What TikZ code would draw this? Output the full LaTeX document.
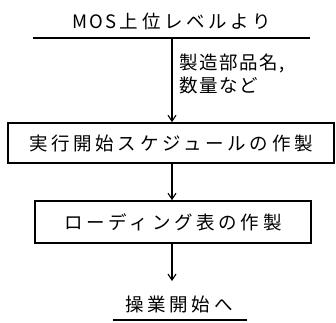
\documentclass[tikz,border=0pt]{standalone}
\usepackage{fontspec}
\usetikzlibrary{arrows.meta}
\newfontfamily\jpfont[LetterSpace=20]{Noto Sans CJK JP}
\newfontfamily\jpfontn[LetterSpace=8]{Noto Sans CJK JP}
\newfontfamily\jplat[LetterSpace=12]{Noto Sans CJK JP}
\begin{document}
\begin{tikzpicture}[x=1pt,y=-1pt,
  txt/.style={font=\jpfont\fontsize{18.5}{20}\selectfont, inner sep=0pt},
  lbl/.style={font=\jpfontn\fontsize{18.5}{20}\selectfont, inner sep=0pt, anchor=west},
  procbox/.style={draw, line width=1.6pt, inner sep=0pt, font=\jpfont\fontsize{18.5}{20}\selectfont},
  flow/.style={line width=1.3pt, -{Straight Barb[length=6pt,width=8pt,line width=1.1pt]}},
  rule/.style={line width=1.5pt}]
\useasboundingbox (0,0) rectangle (336,322);
\node[txt] (src) at (172,21) {{\jplat\fontsize{18.5}{20}\selectfont MOS\,}上位レベルより};
\coordinate (tl) at (33,38);
\coordinate (tr) at (310,38);
\coordinate (t) at (172,38);
\draw[rule] (tl) -- (tr);
\node[procbox, minimum width=326pt, minimum height=40pt] (b1) at (171,143) {実行開始スケジュールの作製};
\node[procbox, minimum width=276pt, minimum height=42pt] (b2) at (173,222) {ローディング表の作製};
\node[lbl] (l1) at (179,63) {製造部品名,};
\node[lbl] (l2) at (179,85) {数量など};
\draw[flow] (t) -- (t |- b1.north);
\draw[flow] (b1.south -| t) -- (b2.north -| t);
\coordinate (e) at (172,281);
\draw[flow] (b2.south -| t) -- (e);
\node[txt] (dst) at (179,304) {操業開始へ};
\coordinate (ul) at (113,320);
\coordinate (ur) at (247,320);
\draw[rule] (ul) -- (ur);
\end{tikzpicture}
\end{document}
